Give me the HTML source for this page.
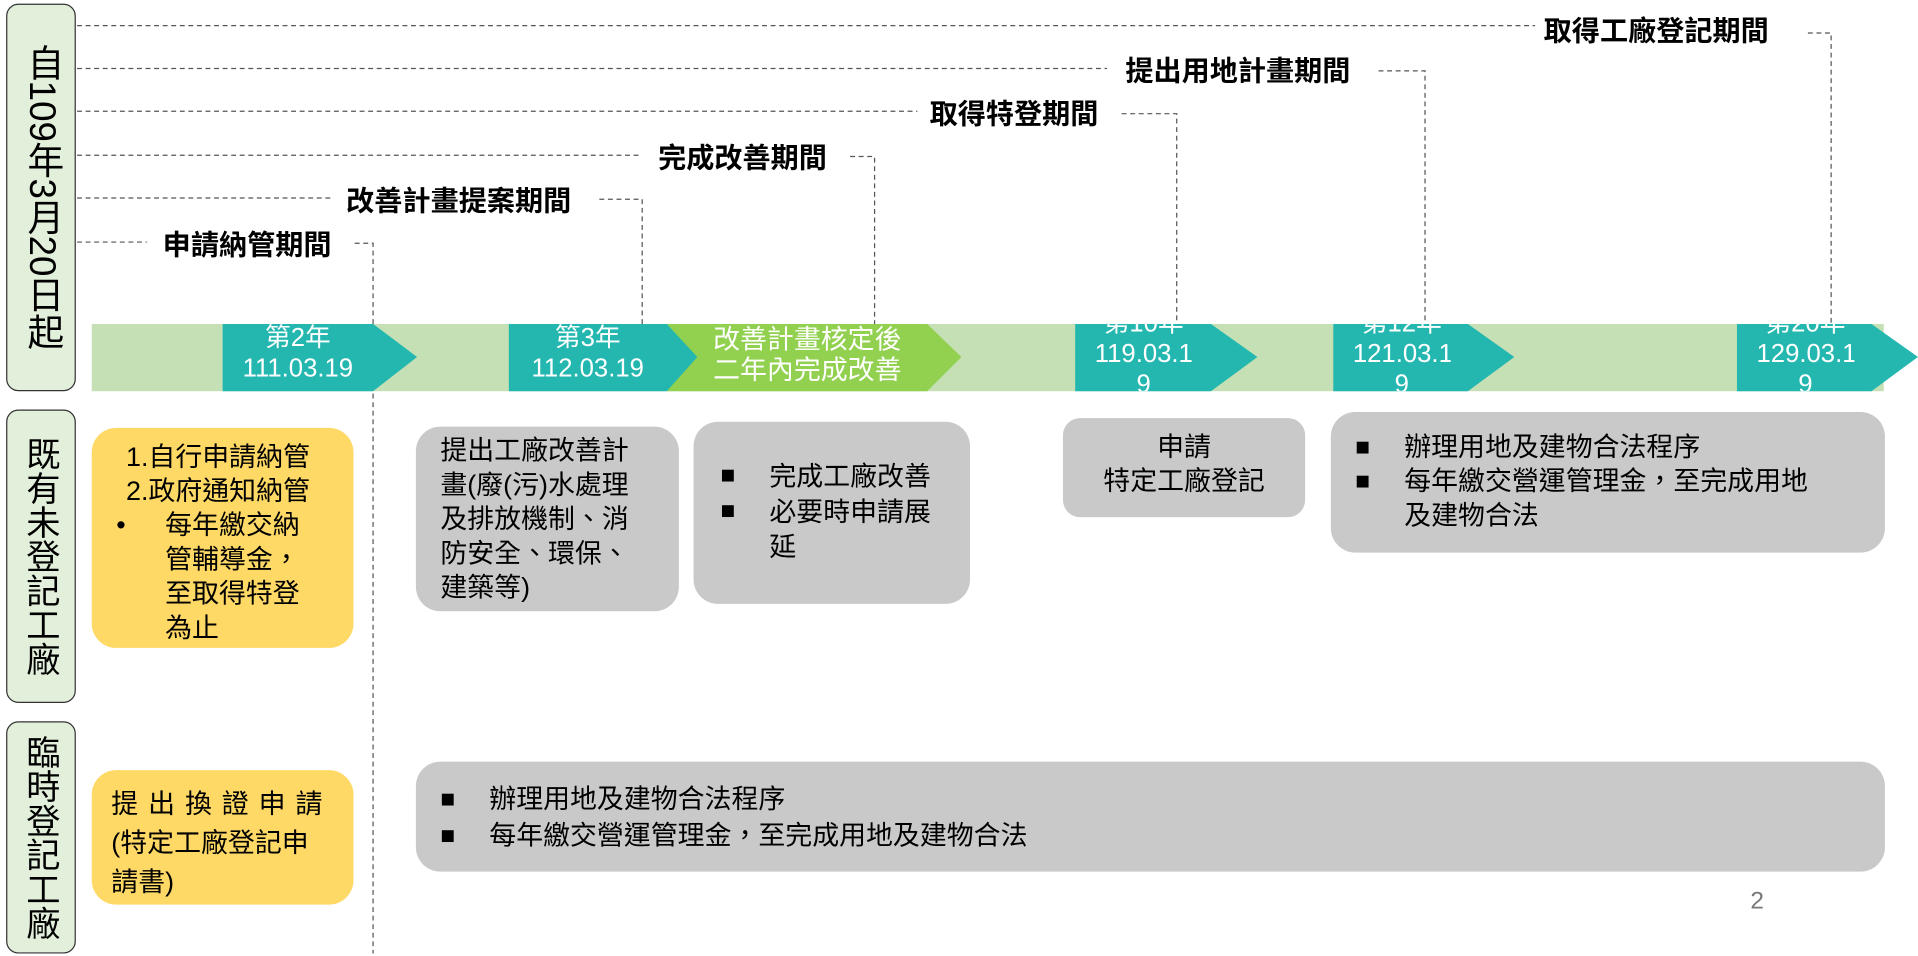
<!DOCTYPE html>
<html><head><meta charset="utf-8"><style>
html,body{margin:0;padding:0;width:1918px;height:956px;overflow:hidden;background:#fff}
#w{position:absolute;left:0;top:0;width:1568px;height:782px;transform:scale(1.2232,1.2225);transform-origin:0 0;font-family:"Liberation Sans","Noto Sans CJK TC",sans-serif;color:#000}
.a{position:absolute}
.vb{position:absolute;border:1.5px solid #333;border-radius:10px;box-sizing:border-box;display:flex;align-items:center;justify-content:center;background:#e2efda}
.vt{writing-mode:vertical-rl;text-orientation:mixed;line-height:1}
.lab{position:absolute;font-weight:bold;font-size:23px;white-space:nowrap;line-height:28px}
.box{position:absolute;border-radius:20px;box-sizing:border-box;font-size:22px;line-height:27px}
.g{background:#c9c9c9}.y{background:#ffd966}
.chev{position:absolute;color:#fff;font-size:21px;line-height:25px;text-align:center;overflow:hidden;height:55px;top:265px}
ul{margin:0;padding:0;list-style:none}
li{position:relative;padding-left:40px}
li:before{content:"■";position:absolute;left:0;font-size:20px}
</style></head><body><div id="w">
<svg class="a" style="left:0;top:0" width="1568" height="782">
<g stroke="#555" stroke-width="1" stroke-dasharray="4,3" fill="none">
<path d="M63 21H1255M1478 27H1497V265"/>
<path d="M63 56H905M1127 58H1165V265"/>
<path d="M63 91H750M917 93H962V265"/>
<path d="M63 127H525M695 128H715V265"/>
<path d="M63 162H270M490 163H525V265"/>
<path d="M63 198H120M290 199H305V265M305 322V780"/>
</g>
<rect x="75" y="265" width="1465" height="55" fill="#c5e0b4"/>
<polygon points="182,265 305,265 341,292 305,320 182,320" fill="#23b7b0"/>
<polygon points="416,265 545,265 580,292 545,320 416,320" fill="#23b7b0"/>
<polygon points="545,265 758,265 786,292 758,320 545,320 570,292" fill="#92d050"/>
<polygon points="545,265 570,292 545,320" fill="#23b7b0"/>
<polygon points="879,265 990,265 1028,292 990,320 879,320" fill="#23b7b0"/>
<polygon points="1090,265 1200,265 1238,292 1200,320 1090,320" fill="#23b7b0"/>
<polygon points="1420,265 1530,265 1568,292 1530,320 1420,320" fill="#23b7b0"/>
</svg>
<div class="vb" style="left:5px;top:3px;width:57px;height:317px"><div class="vt" style="font-size:30px">自109年3月20日起</div></div>
<div class="vb" style="left:5px;top:335px;width:57px;height:240px"><div class="vt" style="font-size:28px">既有未登記工廠</div></div>
<div class="vb" style="left:5px;top:590px;width:57px;height:190px"><div class="vt" style="font-size:28px">臨時登記工廠</div></div>

<div class="lab" style="left:1262px;top:11px">取得工廠登記期間</div>
<div class="lab" style="left:920px;top:44px">提出用地計畫期間</div>
<div class="lab" style="left:760px;top:79px">取得特登期間</div>
<div class="lab" style="left:538px;top:115px">完成改善期間</div>
<div class="lab" style="left:283px;top:150px">改善計畫提案期間</div>
<div class="lab" style="left:133px;top:186px">申請納管期間</div>

<div class="chev" style="left:182px;width:123px"><div style="margin-top:-1px">第2年<br>111.03.19</div></div>
<div class="chev" style="left:416px;width:129px"><div style="margin-top:-1px">第3年<br>112.03.19</div></div>
<div class="chev" style="left:555px;width:210px;font-size:22px"><div style="margin-top:0">改善計畫核定後<br>二年內完成改善</div></div>
<div class="chev" style="left:895px;width:80px"><div style="margin-top:-13px">第10年<br>119.03.1<br>9</div></div>
<div class="chev" style="left:1106px;width:80px"><div style="margin-top:-13px">第12年<br>121.03.1<br>9</div></div>
<div class="chev" style="left:1436px;width:80px"><div style="margin-top:-13px">第20年<br>129.03.1<br>9</div></div>

<div class="box y" style="left:75px;top:350px;width:214px;height:180px;padding:10px 0 0 0;line-height:28px">
<div style="padding-left:28px">1.自行申請納管<br>2.政府通知納管</div>
<div style="position:relative;padding-left:60px;padding-right:30px"><span style="position:absolute;left:20px">•</span>每年繳交納管輔導金，至取得特登為止</div>
</div>
<div class="box g" style="left:340px;top:349px;width:215px;height:151px;padding:6px 30px 0 20px;line-height:28px">提出工廠改善計畫(廢(污)水處理及排放機制、消防安全、環保、建築等)</div>
<div class="box g" style="left:567px;top:345px;width:226px;height:149px;padding:30px 16px 0 22px;line-height:29px"><ul><li>完成工廠改善</li><li>必要時申請展延</li></ul></div>
<div class="box g" style="left:869px;top:342px;width:198px;height:81px;padding:10px 0 0;text-align:center;border-radius:14px;line-height:28px">申請<br>特定工廠登記</div>
<div class="box g" style="left:1088px;top:337px;width:453px;height:115px;padding:15px 45px 0 20px;line-height:28px"><ul><li>辦理用地及建物合法程序</li><li>每年繳交營運管理金，至完成用地及建物合法</li></ul></div>
<div class="box y" style="left:75px;top:630px;width:214px;height:110px;padding:12px 18px 0 16px;line-height:32px"><span style="letter-spacing:1px">提 出 換 證 申 請</span><br><span style="line-height:32px">(特定工廠登記申請書)</span></div>
<div class="box g" style="left:340px;top:623px;width:1201px;height:90px;padding:16px 30px 0 20px;line-height:30px"><ul><li>辦理用地及建物合法程序</li><li>每年繳交營運管理金，至完成用地及建物合法</li></ul></div>
<div class="a" style="left:1431px;top:726px;font-size:20px;color:#777">2</div>
</div></body></html>
